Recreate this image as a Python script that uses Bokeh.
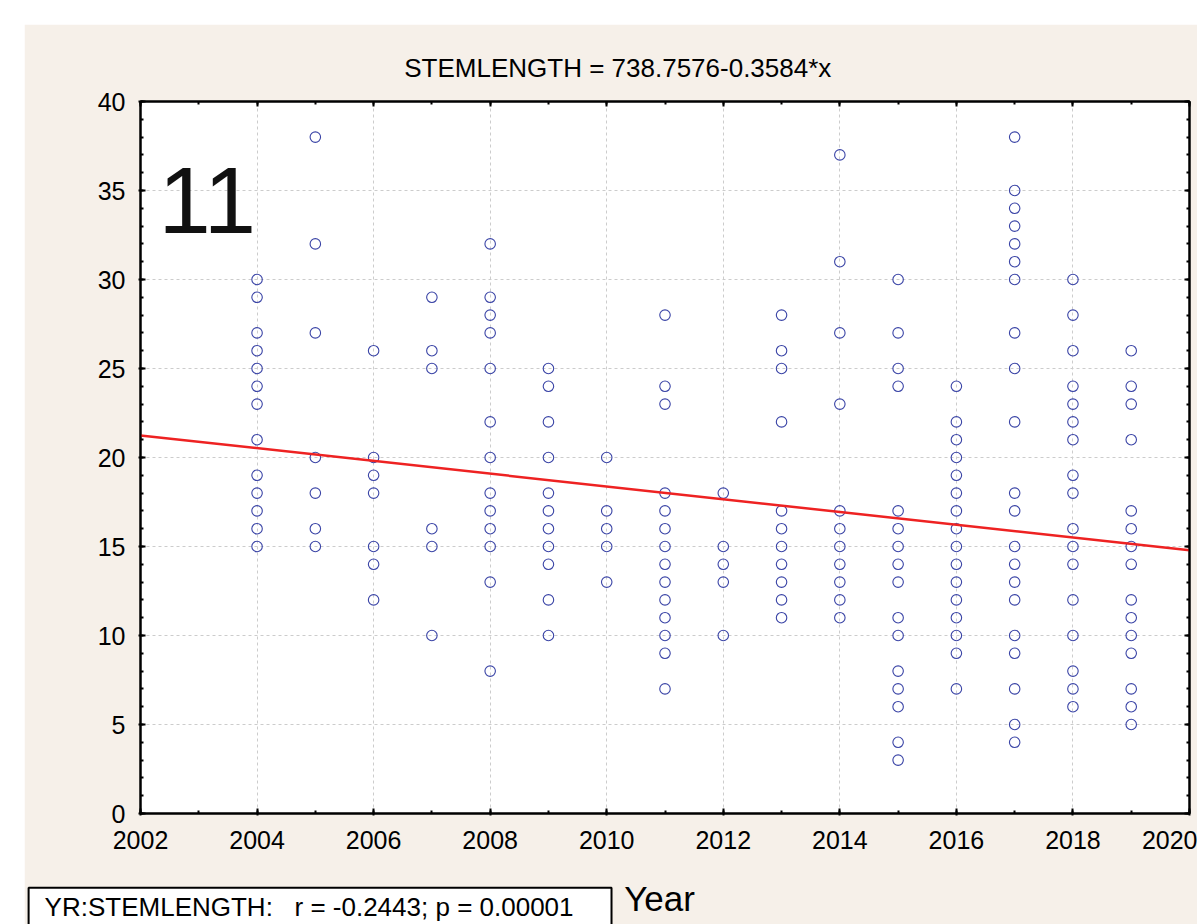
from bokeh.plotting import figure
from bokeh.models import SingleIntervalTicker, LinearAxis, Label, Range1d, CustomJSTickFormatter
from bokeh.embed import file_html
from bokeh.resources import INLINE

# ---- data ----
years = [2004, 2005, 2006, 2007, 2008, 2009, 2010, 2011, 2012, 2013, 2014, 2015, 2016, 2017, 2018, 2019]
y2004 = [30, 29, 27, 26, 25, 24, 23, 21, 19, 18, 17, 16, 15]
y2005 = [38, 32, 27, 20, 18, 16, 15]
y2006 = [26, 20, 19, 18, 15, 14, 12]
y2007 = [29, 26, 25, 16, 15, 10]
y2008 = [32, 29, 28, 27, 25, 22, 20, 18, 17, 16, 15, 13, 8]
y2009 = [25, 24, 22, 20, 18, 17, 16, 15, 14, 12, 10]
y2010 = [20, 17, 16, 15, 13]
y2011 = [28, 24, 23, 18, 17, 16, 15, 14, 13, 12, 11, 10, 9, 7]
y2012 = [18, 15, 14, 13, 10]
y2013 = [28, 26, 25, 22, 17, 16, 15, 14, 13, 12, 11]
y2014 = [37, 31, 27, 23, 17, 16, 15, 14, 13, 12, 11]
y2015 = [30, 27, 25, 24, 17, 16, 15, 14, 13, 11, 10, 8, 7, 6, 4, 3]
y2016 = [24, 22, 21, 20, 19, 18, 17, 16, 15, 14, 13, 12, 11, 10, 9, 7]
y2017 = [38, 35, 34, 33, 32, 31, 30, 27, 25, 22, 18, 17, 15, 14, 13, 12, 10, 9, 7, 5, 4]
y2018 = [30, 28, 26, 24, 23, 22, 21, 19, 18, 16, 15, 14, 12, 10, 8, 7, 6]
y2019 = [26, 24, 23, 21, 17, 16, 15, 14, 12, 11, 10, 9, 7, 6, 5]
values_by_year = [y2004, y2005, y2006, y2007, y2008, y2009, y2010, y2011,
                  y2012, y2013, y2014, y2015, y2016, y2017, y2018, y2019]

INTERCEPT = 738.7576
SLOPE = -0.3584
title_text = "STEMLENGTH = 738.7576-0.3584*x"
stats_text = "YR:STEMLENGTH:\u00a0\u00a0\u00a0r = -0.2443; p = 0.00001"
xlabel_text = "Year"
panel_text = "11"
x_range = (2002, 2020)
y_range = (0, 40)

xs, ys = [], []
for yr, vals in zip(years, values_by_year):
    for v in vals:
        xs.append(yr)
        ys.append(v)

FONT = "Liberation Sans"
BEIGE = "#f6f0e9"

p = figure(width=1173, height=900,
           x_range=Range1d(*x_range), y_range=Range1d(*y_range),
           output_backend="svg", toolbar_location=None,
           min_border_left=116, min_border_right=8,
           min_border_top=77, min_border_bottom=111,
           background_fill_color="white", border_fill_color=BEIGE,
           outline_line_color="black", outline_line_width=2)
p.margin = (24, 0, 0, 24)

xt = SingleIntervalTicker(interval=2, num_minor_ticks=2)
yt = SingleIntervalTicker(interval=5, num_minor_ticks=5)
p.xaxis.ticker = xt
p.yaxis.ticker = yt

for ax in (p.xaxis[0], p.yaxis[0]):
    ax.axis_line_color = "black"
    ax.axis_line_width = 2
    ax.major_tick_in = 5
    ax.major_tick_out = 2
    ax.minor_tick_in = 3
    ax.minor_tick_out = 0
    ax.major_tick_line_width = 2
    ax.minor_tick_line_width = 2
    ax.major_tick_line_color = "black"
    ax.minor_tick_line_color = "black"
    ax.major_label_text_font = FONT
    ax.major_label_text_font_size = "25px"
    ax.major_label_text_color = "black"
p.xaxis.major_label_standoff = 15
p.yaxis.major_label_standoff = 13

blank = CustomJSTickFormatter(code="return ''")
for loc, tk in (("right", SingleIntervalTicker(interval=5, num_minor_ticks=5)),
                ("above", SingleIntervalTicker(interval=2, num_minor_ticks=2))):
    ax = LinearAxis(ticker=tk, formatter=blank,
                    axis_line_color="black", axis_line_width=2,
                    major_tick_in=5, major_tick_out=0,
                    minor_tick_in=3, minor_tick_out=0,
                    major_tick_line_width=2, minor_tick_line_width=2,
                    major_label_standoff=0, major_label_text_font_size="0px")
    p.add_layout(ax, loc)

p.xgrid.grid_line_color = "#cccccc"
p.ygrid.grid_line_color = "#cccccc"
p.xgrid.grid_line_dash = "3 3"
p.ygrid.grid_line_dash = "3 3"
p.xgrid.grid_line_width = 1
p.ygrid.grid_line_width = 1

p.scatter(xs, ys, marker="circle", size=10.5, fill_color=None,
          line_color="#3a44a6", line_width=1.1)

lx = [x_range[0], x_range[1]]
ly = [INTERCEPT + SLOPE * v for v in lx]
p.line(lx, ly, line_color="#ee2222", line_width=2.5)

# texts outside the frame go into side panels so they are not clipped;
# their positions are still given in data units
p.add_layout(Label(x=2010.19, y=41.9, text=title_text, text_align="center",
                   text_baseline="middle", text_font=FONT,
                   text_font_size="26px", text_color="black"), "above")
p.add_layout(Label(x=2002.31, y=34.44, text=panel_text, text_align="left",
                   text_baseline="alphabetic", text_font=FONT,
                   text_font_size="94px", text_color="#111111"))
p.add_layout(Label(x=2010.30, y=-4.78, text=xlabel_text, text_align="left",
                   text_baseline="alphabetic", text_font=FONT,
                   text_font_size="35px", text_color="black"), "above")
p.add_layout(Label(x=2000.08, y=-5.33, text=stats_text, text_align="left",
                   text_baseline="alphabetic", text_font=FONT,
                   text_font_size="26px", text_color="black",
                   background_fill_color="white", border_line_color="black",
                   border_line_width=2, padding=(16, 38, 4, 7)), "below")

open("out.html", "w").write(file_html(p, INLINE))
